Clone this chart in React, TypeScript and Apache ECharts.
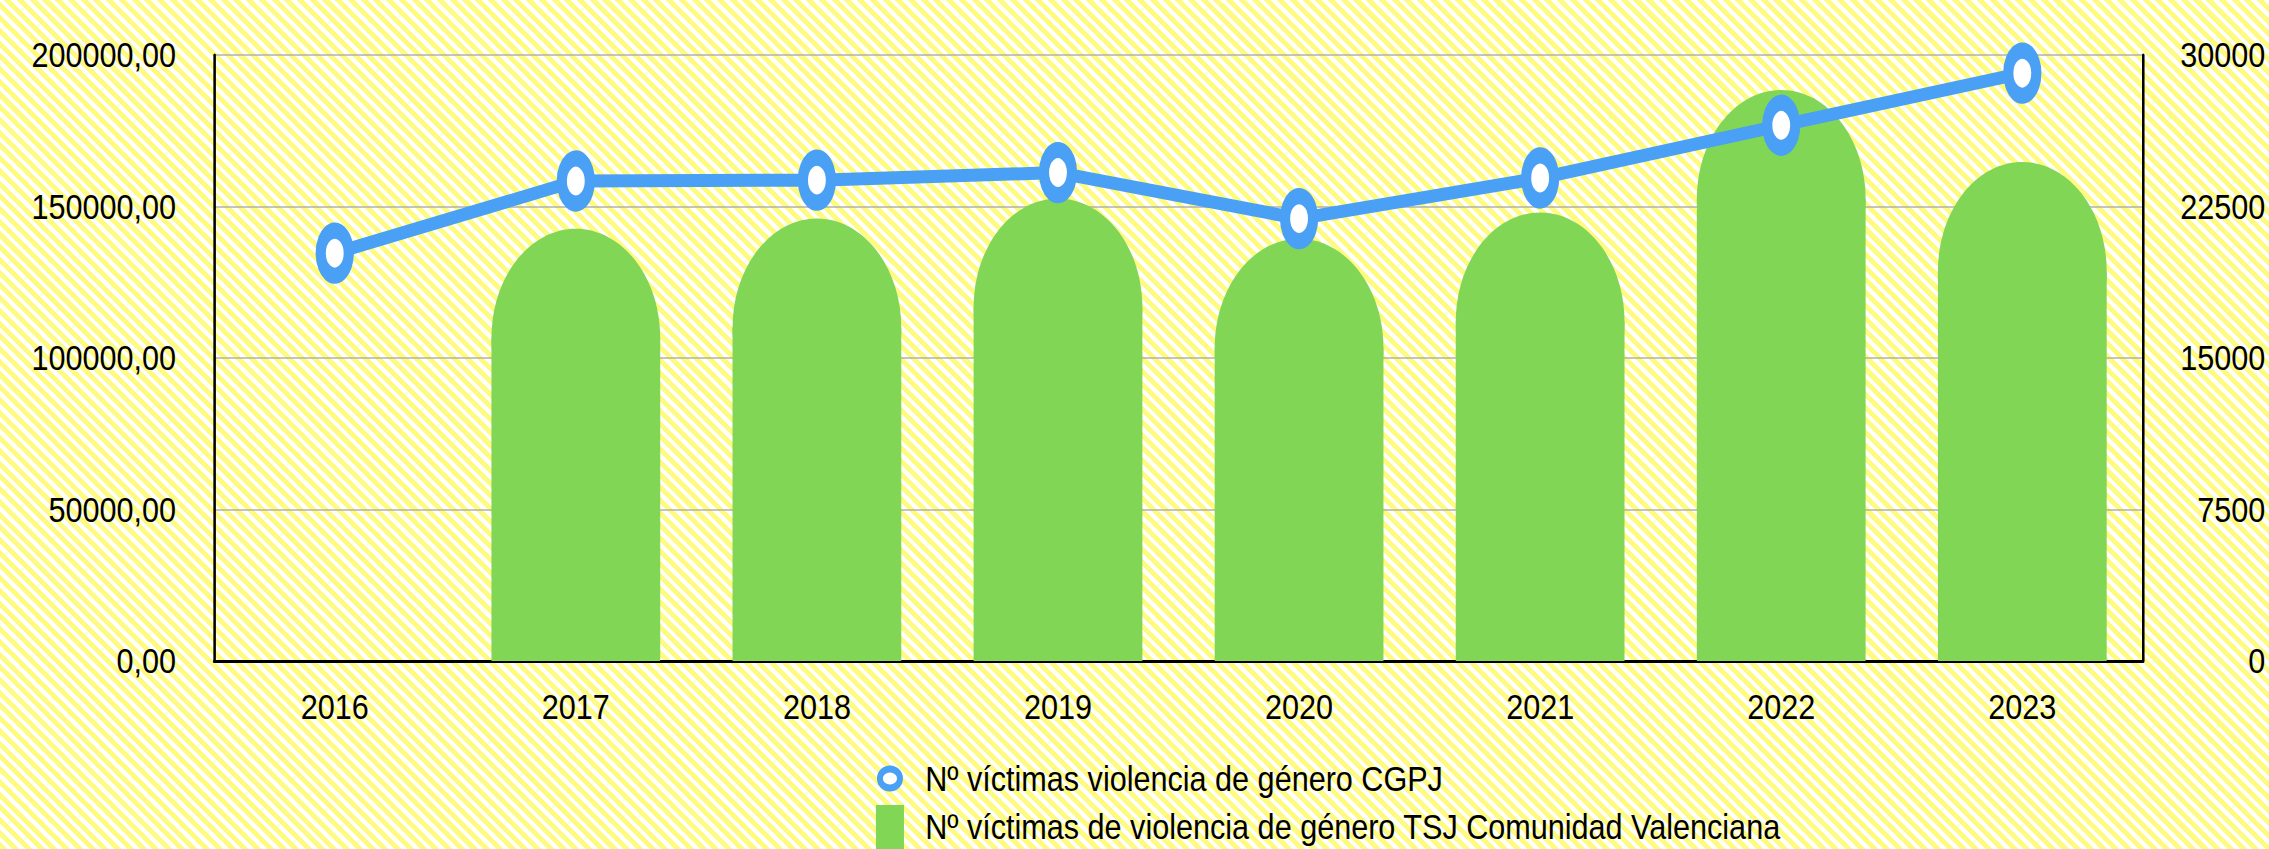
import React, { useEffect, useRef } from "react";
import * as echarts from "echarts";

const years = ["2016", "2017", "2018", "2019", "2020", "2021", "2022", "2023"];
const cgpjVictims = [134600, 158400, 158700, 161200, 146000, 159400, 176800, 194000];
const tsjValencia: (number | null)[] = [null, 21400, 21900, 22900, 20900, 22200, 28270, 24700];
const leftTicks = { min: 0, max: 200000, interval: 50000 };
const rightTicks = { min: 0, max: 30000, interval: 7500 };
const lineName = "Nº víctimas violencia de género CGPJ";
const barName = "Nº víctimas de violencia de género TSJ Comunidad Valenciana";

const FONT = "'Liberation Sans', Arial, Helvetica, sans-serif";
const BLUE = "#4aa0f5";
const GREEN = "#82d655";
const SQUEEZE = 0.85;
const W = 2269;
const H = 849;
const INNER_W = Math.round(W / SQUEEZE);
// legend ring icon: small ellipse inside a 33x44 box (extra move points keep the box)
const RING_ICON = "path://M0,0 M33,44 M4.7,22 A11.8,9.5 0 1,1 28.3,22 A11.8,9.5 0 1,1 4.7,22 Z";

export default function App() {
  const ref = useRef<HTMLDivElement>(null);
  useEffect(() => {
    if (!ref.current) return;
    const chart = echarts.init(ref.current, null, { renderer: "svg" });
    chart.setOption({
      animation: false,
      backgroundColor: "transparent",
      textStyle: { fontFamily: FONT },
      grid: { left: 252, right: 148, top: 55, bottom: 188, outerBoundsMode: "none", containLabel: false },
      legend: {
        orient: "vertical",
        left: 1027,
        top: 753,
        height: 150,
        padding: 0,
        itemWidth: 33,
        itemHeight: 44,
        itemGap: 1,
        symbolKeepAspect: true,
        textStyle: { fontSize: 36, lineHeight: 36, color: "#000", fontFamily: FONT, padding: [0, 0, 0, 20] },
        data: [
          { name: lineName, icon: RING_ICON, itemStyle: { color: "#fff", borderColor: BLUE, borderWidth: 7 } },
          { name: barName, icon: "rect", itemStyle: { color: GREEN, borderWidth: 0 } },
        ],
      },
      xAxis: {
        type: "category",
        data: years,
        boundaryGap: true,
        axisLine: { lineStyle: { color: "#000", width: 3 } },
        axisTick: { show: false },
        axisLabel: { fontSize: 36, color: "#000", margin: 28, fontFamily: FONT },
      },
      yAxis: [
        {
          type: "value",
          min: leftTicks.min,
          max: leftTicks.max,
          interval: leftTicks.interval,
          axisLine: { show: true, lineStyle: { color: "#000", width: 3 } },
          axisTick: { show: false },
          splitLine: { lineStyle: { color: "#b0b0b0", width: 1.5 } },
          axisLabel: {
            fontSize: 36,
            color: "#000",
            margin: 45,
            fontFamily: FONT,
            formatter: (v: number) => v.toFixed(2).replace(".", ","),
          },
        },
        {
          type: "value",
          position: "right",
          min: rightTicks.min,
          max: rightTicks.max,
          interval: rightTicks.interval,
          axisLine: { show: true, lineStyle: { color: "#000", width: 3 } },
          axisTick: { show: false },
          splitLine: { show: false },
          axisLabel: {
            fontSize: 36,
            color: "#000",
            margin: 144,
            align: "right",
            fontFamily: FONT,
            formatter: (v: number) => String(v),
          },
        },
      ],
      series: [
        {
          name: barName,
          type: "custom",
          yAxisIndex: 1,
          z: 2,
          itemStyle: { color: GREEN },
          encode: { x: 0, y: 1 },
          data: tsjValencia.map((v, i) => [i, v == null ? "-" : v]),
          renderItem: (params: any, api: any) => {
            const v = api.value(1);
            if (v == null || isNaN(v)) return null;
            const top = api.coord([api.value(0), v]);
            const base = api.coord([api.value(0), 0]);
            const w = api.size([1, 0])[0] * 0.7;
            const rx = w / 2;
            const ry = rx * 1.1;
            return {
              type: "group",
              children: [
                {
                  type: "rect",
                  shape: { x: top[0] - rx, y: top[1] + ry, width: w, height: Math.max(0, base[1] - top[1] - ry) },
                  style: { fill: GREEN },
                },
                {
                  type: "ellipse",
                  shape: { cx: top[0], cy: top[1] + ry, rx, ry },
                  style: { fill: GREEN },
                },
              ],
            };
          },
        },
        {
          name: lineName,
          type: "line",
          yAxisIndex: 0,
          z: 5,
          data: cgpjVictims,
          symbol: "circle",
          symbolSize: [33, 45],
          showAllSymbol: true,
          lineStyle: { color: BLUE, width: 13 },
          itemStyle: { color: "#fff", borderColor: BLUE, borderWidth: 14 },
        },
      ],
    });
    return () => chart.dispose();
  }, []);
  return (
    <div
      style={{
        position: "fixed",
        left: 0,
        top: 0,
        width: W,
        height: H,
        overflow: "hidden",
        background: "repeating-linear-gradient(45deg, #fffa80 0px, #fffa80 5px, #ffffff 5px, #ffffff 9px)",
      }}
    >
      <div
        ref={ref}
        style={{ width: INNER_W, height: H, transform: `scaleX(${SQUEEZE})`, transformOrigin: "0 0" }}
      />
    </div>
  );
}
